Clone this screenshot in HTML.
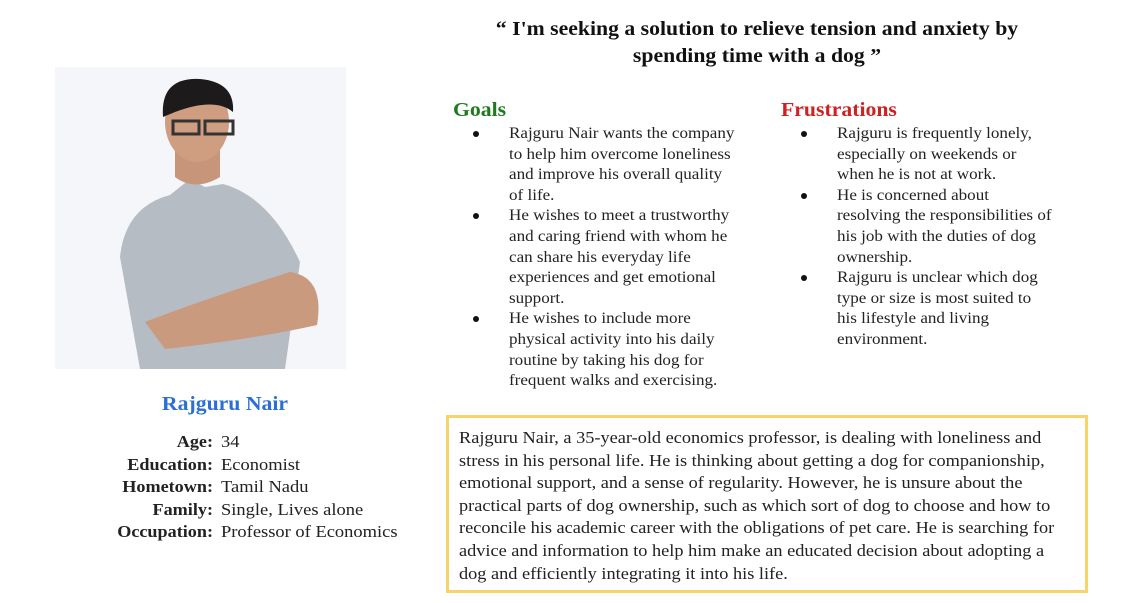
<!DOCTYPE html>
<html><head><meta charset="utf-8">
<style>
html,body{margin:0;padding:0;background:#fff;}
body{width:1122px;height:603px;position:relative;overflow:hidden;font-family:"Liberation Serif",serif;color:#222;}
.a{position:absolute;white-space:nowrap;}
.t{font-weight:bold;font-size:20.5px;color:#111;left:0;width:1514px;text-align:center;transform:scaleX(1.06);transform-origin:757px 0;}
.gl{font-size:15.5px;line-height:20.6px;transform:scaleX(1.1);transform-origin:0 0;}
.b{position:absolute;width:6px;height:6px;border-radius:50%;background:#111;}
.bx{font-size:16.8px;transform:scaleX(1.09);transform-origin:0 0;}
.lab{font-size:16.5px;font-weight:bold;text-align:right;width:160px;left:53px;transform:scaleX(1.1);transform-origin:160px 0;}
.val{font-size:16.5px;left:221px;transform:scaleX(1.12);transform-origin:0 0;}
</style></head><body>
<div class="a t" style="top:18px;">“ I'm seeking a solution to relieve tension and anxiety by</div>
<div class="a t" style="top:45px;">spending time with a dog ”</div>

<svg class="a" style="left:55px;top:67px" width="291" height="302" viewBox="0 0 291 302">
<rect width="291" height="302" fill="#f4f6f9"/>
<path d="M85 302 L65 190 Q70 140 115 128 L135 112 L150 120 L168 117 Q215 130 245 195 L230 302 Z" fill="#b6bcc4"/>
<path d="M90 255 Q150 232 235 205 Q270 210 262 258 Q200 272 110 282 Z" fill="#c99a7e"/>
<path d="M120 60 L120 110 Q140 125 165 110 L165 60 Z" fill="#c7957a"/>
<ellipse cx="142" cy="55" rx="32" ry="40" fill="#cf9d80"/>
<path d="M108 50 Q105 10 145 12 Q180 15 178 45 Q160 30 120 45 Z" fill="#1c1a1a"/>
<rect x="118" y="54" width="26" height="13" fill="none" stroke="#333" stroke-width="3"/>
<rect x="150" y="54" width="28" height="13" fill="none" stroke="#333" stroke-width="3"/>
</svg>

<div class="a" style="left:100px;width:250px;text-align:center;top:393px;font-size:20.5px;font-weight:bold;color:#2c6fd4;transform:scaleX(1.06);">Rajguru Nair</div>

<div class="a lab" style="top:432px;">Age:</div>
<div class="a val" style="top:432px;">34</div>
<div class="a lab" style="top:455px;">Education:</div>
<div class="a val" style="top:455px;">Economist</div>
<div class="a lab" style="top:477px;">Hometown:</div>
<div class="a val" style="top:477px;">Tamil Nadu</div>
<div class="a lab" style="top:500px;">Family:</div>
<div class="a val" style="top:500px;">Single, Lives alone</div>
<div class="a lab" style="top:522px;">Occupation:</div>
<div class="a val" style="top:522px;">Professor of Economics</div>

<div class="a" style="left:453px;top:99px;font-size:20.5px;font-weight:bold;color:#1f7a1f;transform:scaleX(1.06);transform-origin:0 0;">Goals</div>
<div class="a" style="left:781px;top:99px;font-size:20.5px;font-weight:bold;color:#cc2222;transform:scaleX(1.06);transform-origin:0 0;">Frustrations</div>

<div class="b" style="left:473px;top:131px"></div>
<div class="b" style="left:473px;top:213px"></div>
<div class="b" style="left:473px;top:316px"></div>
<div class="a gl" style="left:509px;top:124px;">Rajguru Nair wants the company<br>to help him overcome loneliness<br>and improve his overall quality<br>of life.<br>He wishes to meet a trustworthy<br>and caring friend with whom he<br>can share his everyday life<br>experiences and get emotional<br>support.<br>He wishes to include more<br>physical activity into his daily<br>routine by taking his dog for<br>frequent walks and exercising.</div>

<div class="b" style="left:801px;top:131px"></div>
<div class="b" style="left:801px;top:193px"></div>
<div class="b" style="left:801px;top:275px"></div>
<div class="a gl" style="left:837px;top:124px;">Rajguru is frequently lonely,<br>especially on weekends or<br>when he is not at work.<br>He is concerned about<br>resolving the responsibilities of<br>his job with the duties of dog<br>ownership.<br>Rajguru is unclear which dog<br>type or size is most suited to<br>his lifestyle and living<br>environment.</div>

<div class="a" style="left:446px;top:415px;width:636px;height:172px;border:3px solid #f7d46a;"></div>
<div class="a bx" style="left:459px;top:427px;line-height:22.6px;">Rajguru Nair, a 35-year-old economics professor, is dealing with loneliness and<br>stress in his personal life. He is thinking about getting a dog for companionship,<br>emotional support, and a sense of regularity. However, he is unsure about the<br>practical parts of dog ownership, such as which sort of dog to choose and how to<br>reconcile his academic career with the obligations of pet care. He is searching for<br>advice and information to help him make an educated decision about adopting a<br>dog and efficiently integrating it into his life.</div>
</body></html>
